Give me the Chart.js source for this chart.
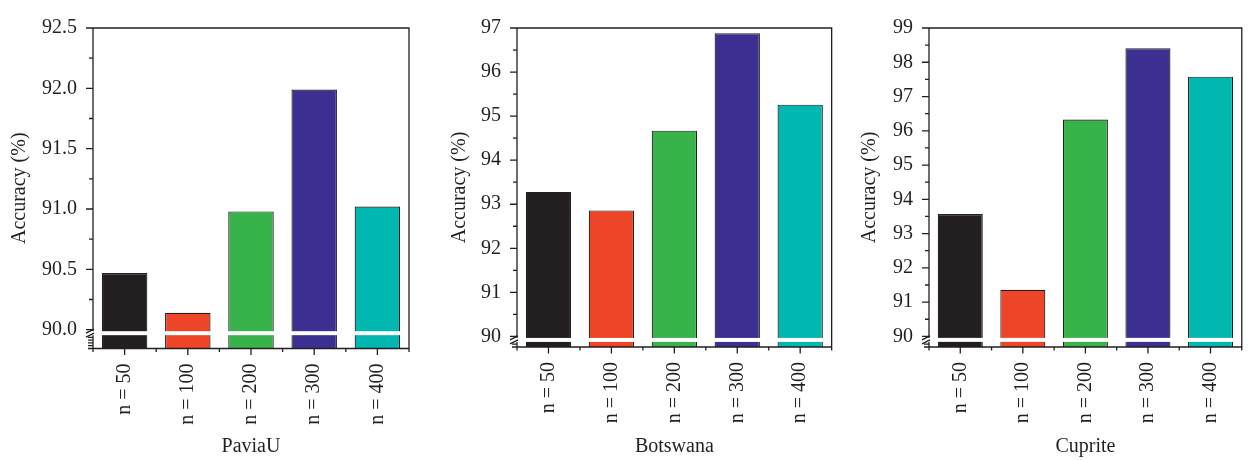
<!DOCTYPE html>
<html>
<head>
<meta charset="utf-8">
<script src="https://cdn.jsdelivr.net/npm/chart.js"></script>
<style>
  html, body { margin: 0; padding: 0; background: #fff; }
  #wrap { position: relative; width: 1250px; height: 460px; }
  canvas { position: absolute; top: 0; }
</style>
</head>
<body>
<div id="wrap">
  <canvas id="paviaU" width="420" height="460" style="left:0px"></canvas>
  <canvas id="botswana" width="400" height="460" style="left:440px"></canvas>
  <canvas id="cuprite" width="400" height="460" style="left:850px"></canvas>
</div>
<script>
  'use strict';

  const categories = ['n = 50', 'n = 100', 'n = 200', 'n = 300', 'n = 400'];
  const barColors = ['#231f20', '#ee4528', '#37b34a', '#3b3091', '#00b8b0'];

  const paviaUValues = [90.47, 90.14, 90.98, 91.99, 91.02];
  const botswanaValues = [93.28, 92.86, 94.67, 96.88, 95.26];
  const cupriteValues = [93.57, 91.36, 96.33, 98.41, 97.58];

  const paviaUTicks = [90.0, 90.5, 91.0, 91.5, 92.0, 92.5];
  const botswanaTicks = [90, 91, 92, 93, 94, 95, 96, 97];
  const cupriteTicks = [90, 91, 92, 93, 94, 95, 96, 97, 98, 99];

  const BREAK_AT = 90;
  const INK = '#231f20';
  const FONT = "'Liberation Serif', 'Times New Roman', serif";

  /* axis frame, ticks and the axis break (Origin style) */
  const brokenAxis = {
    id: 'brokenAxis',
    afterDatasetsDraw(chart) {
      const { ctx, chartArea: a, scales: { y } } = chart;
      const yb = y.getPixelForValue(BREAK_AT);
      ctx.save();
      ctx.fillStyle = '#fff';
      ctx.fillRect(a.left - 8, yb + 1.5, a.right - a.left + 8, 4);
      ctx.restore();
    },
    afterDraw(chart, args, opts) {
      const { ctx, chartArea: a, scales: { x, y } } = chart;
      const yb = y.getPixelForValue(BREAK_AT);
      const g1 = yb + 1.5;
      const g2 = yb + 5.5;

      ctx.save();
      ctx.strokeStyle = INK;
      ctx.lineWidth = 1.3;
      ctx.beginPath();
      ctx.moveTo(a.left, g1);
      ctx.lineTo(a.left, a.top);
      ctx.lineTo(a.right, a.top);
      ctx.lineTo(a.right, a.bottom);
      ctx.lineTo(a.left, a.bottom);
      ctx.lineTo(a.left, g2);

      // y ticks
      const major = opts.major || [];
      major.forEach((v, i) => {
        const py = y.getPixelForValue(v);
        ctx.moveTo(a.left - 7, py);
        ctx.lineTo(a.left, py);
        if (i < major.length - 1) {
          const pm = y.getPixelForValue((v + major[i + 1]) / 2);
          ctx.moveTo(a.left - 4, pm);
          ctx.lineTo(a.left, pm);
        }
      });

      // dense ticks of the compressed part below the break
      for (let py = a.bottom; py > g2 + 1; py -= 2.8) {
        ctx.moveTo(a.left - 5, py);
        ctx.lineTo(a.left, py);
      }

      // x ticks
      for (let i = 0; i < categories.length; i++) {
        const px = x.getPixelForValue(i);
        ctx.moveTo(px, a.bottom);
        ctx.lineTo(px, a.bottom + 6.5);
      }
      for (let i = 0; i <= categories.length; i++) {
        const px = x.getPixelForValue(i - 0.5);
        ctx.moveTo(px, a.bottom);
        ctx.lineTo(px, a.bottom + 3.5);
      }
      ctx.stroke();

      // break marks "//"
      ctx.beginPath();
      [g1, g2].forEach(gy => {
        ctx.moveTo(a.left - 7, gy + 2);
        ctx.lineTo(a.left + 1, gy - 2);
      });
      ctx.stroke();
      ctx.restore();
    }
  };

  function makePanel(id, title, values, ticks, decimals, min, yWidth, padRight, xHeight) {
    const canvas = document.getElementById(id);

    new Chart(canvas.getContext('2d'), {
      type: 'bar',
      data: {
        labels: categories,
        datasets: [{
          data: values,
          backgroundColor: barColors,
          borderColor: INK,
          borderWidth: 1.2,
          barPercentage: 0.72,
          categoryPercentage: 1
        }]
      },
      plugins: [brokenAxis],
      options: {
        responsive: false,
        animation: false,
        devicePixelRatio: 1,
        layout: { padding: { top: 16, right: padRight, left: 0, bottom: 0 } },
        plugins: {
          legend: { display: false },
          tooltip: { enabled: false },
          brokenAxis: { major: ticks }
        },
        scales: {
          x: {
            offset: true,
            grid: { display: false, drawTicks: false },
            border: { display: false },
            ticks: {
              autoSkip: false,
              minRotation: 90,
              maxRotation: 90,
              padding: 15,
              color: INK,
              font: { family: FONT, size: 20 }
            },
            afterFit: function (s) { s.height = xHeight; },
            title: {
              display: true,
              text: title,
              color: INK,
              padding: { top: 0, bottom: 1 },
              font: { family: FONT, size: 20 }
            }
          },
          y: {
            min: min,
            max: ticks[ticks.length - 1],
            afterBuildTicks: function (s) {
              s.ticks = ticks.map(v => ({ value: v }));
            },
            afterFit: function (s) { s.width = yWidth; },
            grid: { display: false, drawTicks: false },
            border: { display: false },
            ticks: {
              autoSkip: false,
              padding: 16,
              color: INK,
              font: { family: FONT, size: 20 },
              callback: function (v) { return Number(v).toFixed(decimals); }
            },
            title: {
              display: true,
              text: 'Accuracy (%)',
              color: INK,
              padding: { top: 8, bottom: 0 },
              font: { family: FONT, size: 20 }
            }
          }
        }
      }
    });
  }

  makePanel('paviaU', 'PaviaU', paviaUValues, paviaUTicks, 1, 89.844, 93, 11, 111.5);
  makePanel('botswana', 'Botswana', botswanaValues, botswanaTicks, 0, 89.76, 77, 8, 113);
  makePanel('cuprite', 'Cuprite', cupriteValues, cupriteTicks, 0, 89.69, 79, 5, 113);
</script>
</body>
</html>
